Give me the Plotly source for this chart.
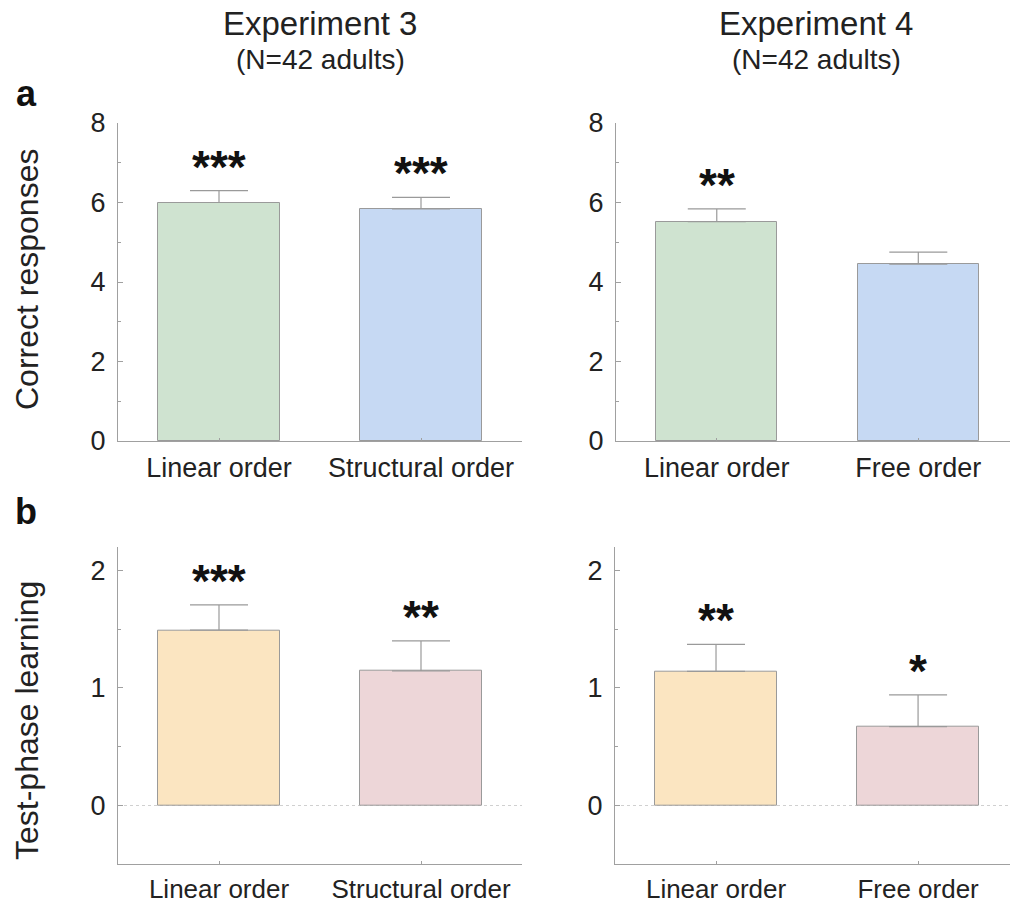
import plotly.graph_objects as go

W, H = 1010, 905

# --- data -------------------------------------------------------------
exp3_conditions = ["Linear order", "Structural order"]
exp4_conditions = ["Linear order", "Free order"]

exp3_correct = [6.0, 5.84]
exp3_correct_err = [0.30, 0.29]
exp3_correct_sig = ["***", "***"]

exp4_correct = [5.52, 4.45]
exp4_correct_err = [0.32, 0.30]
exp4_correct_sig = ["**", ""]

exp3_learning = [1.49, 1.145]
exp3_learning_err = [0.215, 0.255]
exp3_learning_sig = ["***", "**"]

exp4_learning = [1.14, 0.67]
exp4_learning_err = [0.23, 0.27]
exp4_learning_sig = ["**", "*"]

green, blue = "#cfe3d0", "#c6d9f3"
yellow, pink = "#fbe5c1", "#edd6d8"
edge = "#9a9a9a"
axis_col = "#a0a0a0"
txt = "#222222"
FONT = "Liberation Sans, Arial, Helvetica, sans-serif"

fig = go.Figure()


def px_x(p):
    return p / W


def px_y(p):
    return 1 - p / H


panels = [
    # (xaxis id, yaxis id, categories, values, errors, stars, colours)
    ("x", "y", exp3_conditions, exp3_correct, exp3_correct_err, exp3_correct_sig, [green, blue]),
    ("x2", "y2", exp4_conditions, exp4_correct, exp4_correct_err, exp4_correct_sig, [green, blue]),
    ("x3", "y3", exp3_conditions, exp3_learning, exp3_learning_err, exp3_learning_sig, [yellow, pink]),
    ("x4", "y4", exp4_conditions, exp4_learning, exp4_learning_err, exp4_learning_sig, [yellow, pink]),
]

for xa, ya, cats, vals, errs, sig, cols in panels:
    fig.add_trace(go.Bar(
        x=cats, y=vals, xaxis=xa, yaxis=ya, width=0.6,
        marker=dict(color=cols, line=dict(color=edge, width=1)),
        error_y=dict(type="data", array=errs, arrayminus=[0] * len(errs),
                     symmetric=False, color=edge, thickness=1.2, width=29),
        showlegend=False, hoverinfo="x+y",
    ))
    for c, v, e, s in zip(cats, vals, errs, sig):
        if s:
            fig.add_annotation(
                x=c, y=v + e, xref=xa, yref=ya, text=f"<b>{s}</b>", showarrow=False,
                xanchor="center", yanchor="bottom", yshift=-4,
                font=dict(family=FONT, size=46, color="#111111"),
            )

# dotted zero reference in the learning panels
for xa, ya in [("x3", "y3"), ("x4", "y4")]:
    fig.add_shape(type="line", xref=xa, yref=ya, x0=-0.5, x1=1.5, y0=0, y1=0,
                  line=dict(color="#d0d0d0", width=1, dash="dot"), layer="below")

xcommon = dict(
    showline=True, linecolor=axis_col, linewidth=1, ticks="inside", ticklen=3,
    tickcolor=axis_col, showgrid=False, zeroline=False, automargin=False,
    tickfont=dict(family=FONT, size=27, color=txt), ticklabelstandoff=3,
)
xbottom = dict(xcommon, tickfont=dict(family=FONT, size=26, color=txt), ticklabelstandoff=1)
ycommon = dict(
    showline=True, linecolor=axis_col, linewidth=1, ticks="inside", ticklen=5,
    tickcolor=axis_col, showgrid=False, zeroline=False, automargin=False,
    tickfont=dict(family=FONT, size=27, color=txt), ticklabelstandoff=6,
    minor=dict(ticks="inside", ticklen=3, tickcolor=axis_col),
)

top_a, bot_a = 123, 441
top_b, bot_b = 546.7, 864.3
left1, right1 = 118, 522
left2 = 616

fig.update_layout(
    width=W, height=H, margin=dict(l=0, r=0, t=0, b=0, autoexpand=False),
    paper_bgcolor="white", plot_bgcolor="white",
    bargap=0,
    xaxis=dict(xcommon, domain=[px_x(left1), px_x(right1)], range=[-0.5, 1.5], anchor="y"),
    yaxis=dict(ycommon, domain=[px_y(bot_a), px_y(top_a)], range=[0, 8],
               tickvals=[0, 2, 4, 6, 8], minor=dict(ycommon["minor"], tickvals=[1, 3, 5, 7]),
               anchor="x"),
    xaxis2=dict(xcommon, domain=[px_x(left2), 1.0], range=[-0.5, 1.455], anchor="y2"),
    yaxis2=dict(ycommon, domain=[px_y(bot_a), px_y(top_a)], range=[0, 8],
                tickvals=[0, 2, 4, 6, 8], minor=dict(ycommon["minor"], tickvals=[1, 3, 5, 7]),
                anchor="x2"),
    xaxis3=dict(xbottom, domain=[px_x(left1), px_x(right1)], range=[-0.5, 1.5], anchor="y3"),
    yaxis3=dict(ycommon, domain=[px_y(bot_b), px_y(top_b)], range=[-0.5, 2.2],
                tickvals=[0, 1, 2], minor=dict(ycommon["minor"], tickvals=[0.5, 1.5]),
                anchor="x3"),
    xaxis4=dict(xbottom, domain=[px_x(left2 - 1), 1.0], range=[-0.5, 1.455], anchor="y4"),
    yaxis4=dict(ycommon, domain=[px_y(bot_b), px_y(top_b)], range=[-0.5, 2.2],
                tickvals=[0, 1, 2], minor=dict(ycommon["minor"], tickvals=[0.5, 1.5]),
                anchor="x4"),
)

# column headings
for cx, head in [(320, "Experiment 3"), (816, "Experiment 4")]:
    fig.add_annotation(x=px_x(cx), y=px_y(23), xref="paper", yref="paper",
                       text=head, showarrow=False, xanchor="center", yanchor="middle",
                       font=dict(family=FONT, size=33, color=txt))
    fig.add_annotation(x=px_x(cx), y=px_y(59), xref="paper", yref="paper",
                       text="(N=42 adults)", showarrow=False, xanchor="center", yanchor="middle",
                       font=dict(family=FONT, size=28, color=txt))

# panel letters
for py, letter in [(93, "a"), (511, "b")]:
    fig.add_annotation(x=px_x(26), y=px_y(py), xref="paper", yref="paper",
                       text=f"<b>{letter}</b>", showarrow=False,
                       xanchor="center", yanchor="middle",
                       font=dict(family=FONT, size=36, color="#111111"))

# row titles
for py, label in [(280, "Correct responses"), (721, "Test-phase learning")]:
    fig.add_annotation(x=px_x(27), y=px_y(py), xref="paper", yref="paper",
                       text=label, textangle=-90, showarrow=False,
                       xanchor="center", yanchor="middle",
                       font=dict(family=FONT, size=32, color=txt))

fig.write_html("out.html")
